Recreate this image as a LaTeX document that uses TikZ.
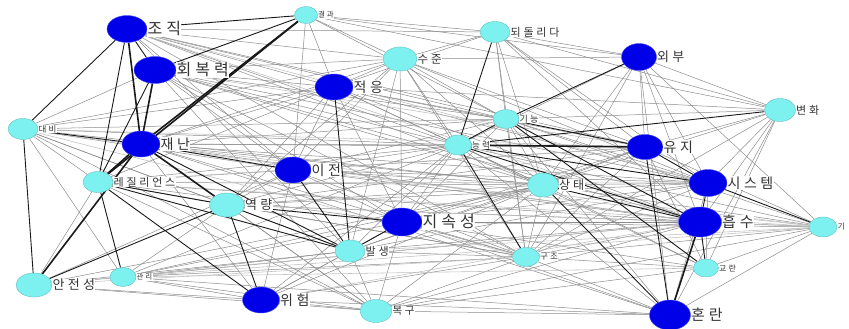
\documentclass[tikz,border=0pt]{standalone}
\usepackage{fontspec}
\newfontfamily\kr[LetterSpace=25]{Noto Sans CJK KR}
\usetikzlibrary{shapes.geometric}
\definecolor{nbleu}{RGB}{0,0,232}
\definecolor{nclair}{RGB}{125,240,240}
\definecolor{tgris}{RGB}{140,140,140}
\definecolor{tpale}{RGB}{190,190,190}
\definecolor{tnoir}{RGB}{25,25,25}
\pgfdeclarelayer{fond}
\pgfsetlayers{fond,main}

\begin{document}
\begin{tikzpicture}[x=1pt,y=-1pt,
    bleu/.style={ellipse,draw=blue!70,fill=nbleu,inner sep=0pt},
    clair/.style={ellipse,draw=nclair!80!black,fill=nclair,inner sep=0pt},
    lbl/.style={fill=white,inner sep=0.3pt,text=black!80},
    fin/.style={tgris,line width=0.5pt},
    pale/.style={tpale,line width=0.55pt},
    fort/.style={tnoir,line width=0.9pt},
    tres/.style={tnoir,line width=1.6pt}]
  \useasboundingbox (0,0) rectangle (849,329);
  % noeuds foncés
  \foreach \n/\x/\y/\w/\h/\t/\s in {jojik/127/29/40/27/조직/16, hoebok/155/70/42/27/회복력/16,
      jaenan/141/144/38/26/재난/14, jeogeung/334/87/38/26/적응/14, ijeon/293/170/36/26/이전/14,
      jisok/402/222/40/28/지속성/16, oebu/639/57/35/27/외부/13, yuji/645/147/36/25/유지/14,
      system/708/183/38/27/시스템/14, heupsu/700/222/43/30/흡수/15, honran/670/315/41/30/혼란/15,
      wiheom/261/300/37/26/위험/14}
    \node[bleu,minimum width=\w pt,minimum height=\h pt,label distance=2pt,
      label={[lbl,font=\kr\fontsize{\s}{\s}\selectfont]right:\t}] (\n) at (\x,\y) {};
  % noeuds clairs
  \foreach \n/\x/\y/\w/\h/\t/\s in {gyeolgwa/306/15/23/17/결과/7.5, doedol/495/32/30/21/되돌리다/11,
      sujun/400/59/34/24/수준/11.5, daebi/23/129/30/21/대비/8.5, gineung/506/119/26/19/기능/9,
      neungryeok/458/145/27/20/능력/8.5, byeonhwa/780/110/31/23/변화/11, resil/98/182/30/21/레질리언스/11,
      yeokryang/227/205/35/24/역량/13, sangtae/543/185/31/24/상태/12, balsaeng/350/251/30/22/발생/11,
      gujo/526/257/27/19/구조/8.5, bokgu/376/311/32/23/복구/10.5, anjeon/34/285/36/24/안전성/13,
      gwanri/123/277/26/19/관리/7.5, gyoran/706/268/25/18/교란/8, gi/823/227/28/20/기/8}
    \node[clair,minimum width=\w pt,minimum height=\h pt,label distance=1.5pt,
      label={[lbl,font=\kr\fontsize{\s}{\s}\selectfont]right:\t}] (\n) at (\x,\y) {};

  \begin{pgfonlayer}{fond}
    \foreach \a/\b in {jojik/sujun, jojik/doedol, jojik/jeogeung, jojik/gineung, jojik/neungryeok,
        jojik/yuji, jojik/sangtae, jojik/ijeon, jojik/balsaeng, hoebok/sujun, hoebok/jeogeung,
        hoebok/gineung, hoebok/neungryeok, hoebok/system, hoebok/sangtae, hoebok/daebi, hoebok/ijeon,
        hoebok/jisok, hoebok/heupsu, gyeolgwa/doedol, gyeolgwa/sujun, gyeolgwa/oebu, gyeolgwa/jeogeung,
        gyeolgwa/gineung, gyeolgwa/ijeon, gyeolgwa/byeonhwa, daebi/sujun, daebi/jeogeung, daebi/gineung,
        daebi/neungryeok, daebi/yeokryang, daebi/ijeon, daebi/resil, daebi/balsaeng, daebi/sangtae,
        jaenan/jeogeung, jaenan/sujun, jaenan/neungryeok, jaenan/gineung, jaenan/sangtae, jaenan/heupsu,
        jaenan/system, jaenan/wiheom, jaenan/bokgu, jaenan/gujo, resil/jeogeung, resil/neungryeok,
        resil/ijeon, resil/jisok, resil/sangtae, resil/gujo, resil/bokgu, resil/heupsu, resil/anjeon,
        yeokryang/jeogeung, yeokryang/sujun, yeokryang/neungryeok, yeokryang/ijeon, yeokryang/sangtae,
        yeokryang/gujo, yeokryang/bokgu, yeokryang/gwanri, yeokryang/heupsu, yeokryang/system,
        anjeon/wiheom, anjeon/bokgu, anjeon/gwanri, anjeon/balsaeng, anjeon/ijeon, gwanri/balsaeng,
        gwanri/jisok, gwanri/gujo, gwanri/bokgu, gwanri/wiheom, gwanri/heupsu, gwanri/honran,
        gwanri/sangtae, wiheom/balsaeng, wiheom/bokgu, wiheom/jisok, wiheom/ijeon, wiheom/gujo,
        wiheom/honran, bokgu/balsaeng, bokgu/jisok, bokgu/gujo, bokgu/honran, bokgu/heupsu, bokgu/gi,
        bokgu/gyoran, balsaeng/gujo, balsaeng/neungryeok, balsaeng/sangtae, balsaeng/heupsu,
        balsaeng/sujun, ijeon/jeogeung, ijeon/sujun, ijeon/jisok, ijeon/neungryeok, ijeon/gineung,
        ijeon/gujo, ijeon/sangtae, ijeon/yuji, jeogeung/sujun, jeogeung/doedol, jeogeung/gineung,
        jeogeung/neungryeok, jeogeung/sangtae, jeogeung/jisok, jeogeung/yuji, jeogeung/system,
        jeogeung/heupsu, jeogeung/byeonhwa, sujun/doedol, sujun/gineung, sujun/neungryeok, sujun/jisok,
        sujun/sangtae, sujun/gujo, sujun/yuji, sujun/system, sujun/oebu, doedol/oebu, doedol/gineung,
        doedol/byeonhwa, doedol/yuji, doedol/system, doedol/sangtae, doedol/heupsu, oebu/byeonhwa,
        oebu/yuji, oebu/system, oebu/heupsu, oebu/neungryeok, oebu/sangtae, oebu/gujo, oebu/gi,
        byeonhwa/yuji, byeonhwa/system, byeonhwa/heupsu, byeonhwa/gyoran, byeonhwa/honran,
        byeonhwa/gineung, gineung/sangtae, gineung/system, gineung/gujo, gineung/jisok, gineung/gi,
        neungryeok/sangtae, neungryeok/jisok, neungryeok/honran, neungryeok/gyoran, neungryeok/gi,
        sangtae/yuji, sangtae/system, sangtae/gujo, sangtae/gyoran, sangtae/gi, sangtae/jisok,
        yuji/gi, yuji/gyoran, yuji/gujo, system/gyoran, system/honran, system/gujo, heupsu/gi,
        heupsu/gujo, heupsu/jisok, gi/gyoran, gi/honran, gi/gujo, gi/jisok, gujo/honran, gujo/gyoran,
        gujo/jisok, honran/jisok, jojik/gujo, hoebok/gujo, hoebok/bokgu, daebi/gwanri, daebi/bokgu,
        yeokryang/yuji, jaenan/yuji, jaenan/honran, balsaeng/yuji, balsaeng/system, wiheom/sangtae,
        wiheom/neungryeok, bokgu/sangtae, ijeon/system, ijeon/heupsu, jisok/yuji, jisok/system,
        jisok/gyoran, anjeon/sangtae, gwanri/neungryeok, doedol/gujo, byeonhwa/gujo, byeonhwa/sangtae,
        oebu/honran, gineung/honran}
      \draw[fin] (\a) -- (\b);
    \foreach \a/\b in {jojik/heupsu, jojik/system, hoebok/yuji, daebi/heupsu, daebi/gujo,
        resil/system, resil/yuji, anjeon/gujo, anjeon/heupsu, gwanri/gi, gwanri/gyoran,
        wiheom/heupsu, balsaeng/gi, jaenan/gi, yeokryang/gi, ijeon/gi, resil/gi, daebi/yuji}
      \draw[pale] (\a) -- (\b);
    \foreach \a/\b in {jojik/hoebok, jojik/daebi, jojik/gyeolgwa, jojik/resil, hoebok/gyeolgwa,
        hoebok/resil, daebi/jaenan, daebi/anjeon, jaenan/ijeon, jaenan/balsaeng, resil/yeokryang,
        resil/balsaeng, resil/wiheom, resil/gwanri, yeokryang/balsaeng, yeokryang/wiheom,
        yeokryang/anjeon, yeokryang/jisok, ijeon/balsaeng, jeogeung/balsaeng, doedol/neungryeok,
        gineung/neungryeok, neungryeok/system, neungryeok/heupsu, neungryeok/gujo, gineung/yuji,
        gineung/heupsu, gineung/gyoran, oebu/gineung, byeonhwa/neungryeok, sangtae/heupsu,
        sangtae/honran, yuji/honran, system/heupsu, heupsu/gyoran, system/gi, yuji/system,
        jisok/balsaeng}
      \draw[fort] (\a) -- (\b);
    \foreach \a/\b in {jojik/jaenan, hoebok/jaenan, gyeolgwa/jaenan, gyeolgwa/resil, anjeon/jaenan,
        resil/jaenan, jaenan/yeokryang, neungryeok/yuji, heupsu/honran}
      \draw[tres] (\a) -- (\b); % liens forts
  \end{pgfonlayer}
\end{tikzpicture}
\end{document}
